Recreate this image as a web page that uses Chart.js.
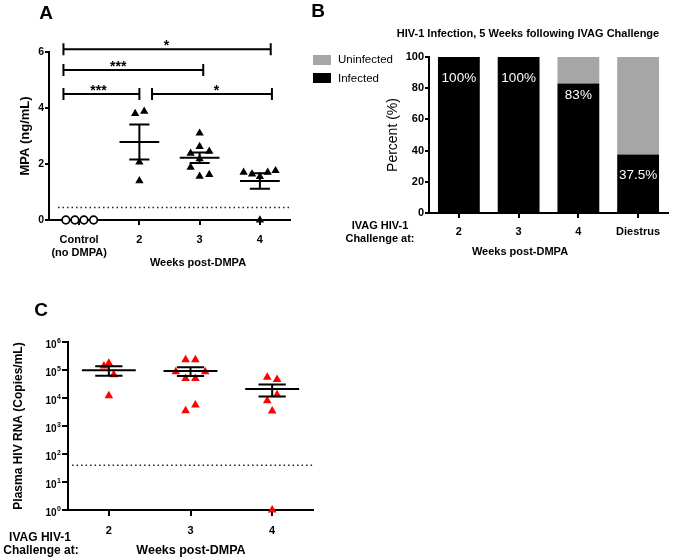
<!DOCTYPE html>
<html lang="en">
<head>
<meta charset="UTF-8" />
<title>MPA levels and HIV-1 infection after DMPA</title>
<script src="https://cdn.jsdelivr.net/npm/chart.js"></script>
<style>
  body { margin: 0; width: 685px; height: 560px; position: relative; overflow: hidden; background: #fff;
         font-family: Arial, "Liberation Sans", sans-serif; color: #000; }
  canvas { position: absolute; }
  .t { position: absolute; transform: translate(-50%, -50%); line-height: 1; font-weight: bold; white-space: nowrap; }
  .lg { position: absolute; transform: translateY(-50%); line-height: 1; font-size: 11.5px; white-space: nowrap; }
  .sw { position: absolute; width: 18px; height: 10px; }
</style>
</head>
<body>
  <canvas id="chartA" width="300" height="280" style="left:0;top:0"></canvas>
  <canvas id="chartB" width="345" height="280" style="left:340px;top:0"></canvas>
  <canvas id="chartC" width="330" height="270" style="left:0;top:290px"></canvas>

  <!-- panel letters -->
  <div class="t" style="left:46px;top:12px;font-size:19px">A</div>
  <div class="t" style="left:318px;top:10px;font-size:19px">B</div>
  <div class="t" style="left:41px;top:309px;font-size:19px">C</div>

  <!-- A -->
  <div class="t" style="left:198px;top:262px;font-size:11px">Weeks post-DMPA</div>

  <!-- B -->
  <div class="t" style="left:528px;top:33px;font-size:11px">HIV-1 Infection, 5 Weeks following IVAG Challenge</div>
  <div class="sw" style="left:313px;top:55px;background:#a6a6a6"></div>
  <div class="lg" style="left:338px;top:60px">Uninfected</div>
  <div class="sw" style="left:313px;top:73px;background:#000"></div>
  <div class="lg" style="left:338px;top:79px">Infected</div>
  <div class="t" style="left:380px;top:225px;font-size:11px">IVAG HIV-1</div>
  <div class="t" style="left:380px;top:238px;font-size:11px">Challenge at:</div>
  <div class="t" style="left:520px;top:251px;font-size:11px">Weeks post-DMPA</div>

  <!-- C -->
  <div class="t" style="left:40px;top:537px;font-size:12px">IVAG HIV-1</div>
  <div class="t" style="left:41px;top:550px;font-size:12px">Challenge at:</div>
  <div class="t" style="left:191px;top:550px;font-size:12.5px">Weeks post-DMPA</div>

<script>
  // ---- A: serum MPA (ng/mL)
  const labelsA = [["Control", "(no DMPA)"], "2", "3", "4"];
  const mpaControl = [0, 0, 0, 0];
  const mpaWk2 = [3.8, 3.88, 2.07, 1.4];
  const mpaWk3 = [3.1, 2.62, 2.38, 2.45, 2.18, 1.88, 1.56, 1.62];
  const mpaWk4 = [1.7, 1.64, 1.55, 1.7, 1.76, 0];
  const mpaLimit = 0.45;
  // horizontal scatter of the points (category units)
  const jitControl = [-0.22, -0.07, 0.08, 0.24];
  const jitWk2 = [-0.07, 0.08, 0, 0];
  const jitWk3 = [0, 0, -0.15, 0.16, 0, -0.15, 0, 0.16];
  const jitWk4 = [-0.27, -0.13, 0, 0.13, 0.26, 0];
  // significance brackets
  const bracketsA = [
    { from: -0.26, to: 3.18, y: 6.1, text: "*", at: 1.45 },
    { from: -0.26, to: 2.06, y: 5.36, text: "***", at: 0.65 },
    { from: -0.26, to: 1.0, y: 4.5, text: "***", at: 0.32 },
    { from: 1.21, to: 3.2, y: 4.5, text: "*", at: 2.28 },
  ];

  // ---- B: % infected
  const labelsB = ["2", "3", "4", "Diestrus"];
  const infected = [100, 100, 83, 37.5];
  const uninfected = [0, 0, 17, 62.5];
  const pctText = ["100%", "100%", "83%", "37.5%"];
  const pctAt = [86.5, 86.5, 75.6, 24.4];

  // ---- C: plasma viral load (copies/mL)
  const labelsC = ["2", "3", "4"];
  const rnaWk2 = [1.4e5, 1.75e5, 6.8e4, 1.2e4];
  const rnaWk3 = [2.3e5, 2.3e5, 8.7e4, 8.7e4, 5e4, 5e4, 3.5e3, 5.6e3];
  const rnaWk4 = [5.5e4, 4.6e4, 1.3e4, 8e3, 3.4e3, 1];
  const rnaLimit = 40;
  const jitC2 = [-0.06, 0, 0.06, 0];
  const jitC3 = [-0.06, 0.06, -0.18, 0.18, -0.06, 0.06, -0.06, 0.06];
  const jitC4 = [-0.06, 0.06, 0.06, -0.06, 0, 0];

  const family = 'Arial, "Liberation Sans", sans-serif';
  Chart.defaults.font.family = family;
  Chart.defaults.color = "#000";

  const pts = (vals, at, jit) => vals.map((v, i) => ({ x: at + jit[i], y: v }));

  // mean line + SEM whiskers, drawn over the points
  function meanSem(groups) {
    return {
      id: "meanSem",
      afterDatasetsDraw(chart) {
        const { ctx, scales: { x, y } } = chart;
        ctx.save();
        ctx.strokeStyle = "#000";
        ctx.lineWidth = 2;
        groups.forEach(g => {
          const n = g.vals.length;
          const m = g.vals.reduce((a, b) => a + b, 0) / n;
          const sd = Math.sqrt(g.vals.reduce((a, b) => a + (b - m) ** 2, 0) / (n - 1));
          const se = sd / Math.sqrt(n);
          const x0 = x.getPixelForValue(g.at - 0.33), x1 = x.getPixelForValue(g.at + 0.33);
          const c0 = x.getPixelForValue(g.at - 0.167), c1 = x.getPixelForValue(g.at + 0.167);
          const xc = x.getPixelForValue(g.at);
          const ym = y.getPixelForValue(m), yt = y.getPixelForValue(m + se), yb = y.getPixelForValue(m - se);
          ctx.beginPath();
          ctx.moveTo(x0, ym); ctx.lineTo(x1, ym);
          ctx.moveTo(c0, yt); ctx.lineTo(c1, yt);
          ctx.moveTo(c0, yb); ctx.lineTo(c1, yb);
          ctx.moveTo(xc, yt); ctx.lineTo(xc, yb);
          ctx.stroke();
        });
        ctx.restore();
      }
    };
  }

  const brackets = {
    id: "brackets",
    afterDraw(chart) {
      const { ctx, scales: { x, y } } = chart;
      ctx.save();
      ctx.strokeStyle = "#000";
      ctx.fillStyle = "#000";
      ctx.lineWidth = 2;
      ctx.font = "bold 14px " + family;
      ctx.textAlign = "center";
      ctx.textBaseline = "alphabetic";
      bracketsA.forEach(b => {
        const xa = x.getPixelForValue(b.from), xb = x.getPixelForValue(b.to), py = y.getPixelForValue(b.y);
        ctx.beginPath();
        ctx.moveTo(xa, py); ctx.lineTo(xb, py);
        ctx.moveTo(xa, py - 6); ctx.lineTo(xa, py + 6);
        ctx.moveTo(xb, py - 6); ctx.lineTo(xb, py + 6);
        ctx.stroke();
        ctx.fillText(b.text, x.getPixelForValue(b.at), py + 1);
      });
      ctx.restore();
    }
  };

  const axisGrid = (len) => ({ display: true, drawOnChartArea: false, drawTicks: true, tickLength: len, color: "#000", lineWidth: 2 });
  const axisBorder = { display: true, color: "#000", width: 2 };
  const noPlugins = { legend: { display: false }, tooltip: { enabled: false } };

  // ---- chart A
  new Chart(document.getElementById("chartA"), {
    type: "scatter",
    data: {
      datasets: [
        { data: pts(mpaControl, 0, jitControl), pointStyle: "circle", pointRadius: 3.8, pointBackgroundColor: "#fff", pointBorderColor: "#000", pointBorderWidth: 1.7, clip: false },
        { data: pts(mpaWk2, 1, jitWk2), pointStyle: "triangle", pointRadius: 4.8, pointBackgroundColor: "#000", pointBorderWidth: 0, clip: false },
        { data: pts(mpaWk3, 2, jitWk3), pointStyle: "triangle", pointRadius: 4.8, pointBackgroundColor: "#000", pointBorderWidth: 0, clip: false },
        { data: pts(mpaWk4, 3, jitWk4), pointStyle: "triangle", pointRadius: 4.8, pointBackgroundColor: "#000", pointBorderWidth: 0, clip: false },
        { data: [{ x: -0.35, y: mpaLimit }, { x: 3.5, y: mpaLimit }], showLine: true, pointRadius: 0, borderColor: "#222", borderWidth: 1.5, borderDash: [1.5, 3] },
      ]
    },
    options: {
      responsive: false,
      animation: false,
      events: [],
      layout: { padding: { left: 0, top: 52, right: 10, bottom: 0 } },
      plugins: noPlugins,
      scales: {
        x: {
          type: "linear", min: -0.5, max: 3.5,
          afterBuildTicks: s => { s.ticks = labelsA.map((_, i) => ({ value: i })); },
          ticks: { callback: v => labelsA[v], font: { size: 11, weight: "bold" }, padding: 8, maxRotation: 0, autoSkip: false },
          grid: axisGrid(5),
          border: axisBorder,
          afterFit: s => { s.height = 60; }
        },
        y: {
          min: 0, max: 6,
          ticks: { stepSize: 2, font: { size: 10.5, weight: "bold" }, padding: 1 },
          grid: axisGrid(4),
          border: axisBorder,
          title: { display: true, text: "MPA (ng/mL)", font: { size: 13, weight: "bold" }, padding: { top: 18, bottom: 0 } },
          afterFit: s => { s.width = 49; }
        }
      }
    },
    plugins: [meanSem([{ at: 1, vals: mpaWk2 }, { at: 2, vals: mpaWk3 }, { at: 3, vals: mpaWk4 }]), brackets]
  });

  // ---- chart B
  const barText = {
    id: "barText",
    afterDatasetsDraw(chart) {
      const { ctx, scales: { x, y } } = chart;
      ctx.save();
      ctx.fillStyle = "#fff";
      ctx.font = "13.5px " + family;
      ctx.textAlign = "center";
      ctx.textBaseline = "middle";
      pctText.forEach((t, i) => ctx.fillText(t, x.getPixelForValue(i), y.getPixelForValue(pctAt[i])));
      ctx.restore();
    }
  };

  new Chart(document.getElementById("chartB"), {
    type: "bar",
    data: {
      labels: labelsB,
      datasets: [
        { label: "Infected", data: infected, backgroundColor: "#000", barPercentage: 0.7, categoryPercentage: 1 },
        { label: "Uninfected", data: uninfected, backgroundColor: "#a6a6a6", barPercentage: 0.7, categoryPercentage: 1 },
      ]
    },
    options: {
      responsive: false,
      animation: false,
      events: [],
      layout: { padding: { left: 0, top: 57, right: 17, bottom: 0 } },
      plugins: noPlugins,
      scales: {
        x: {
          stacked: true,
          ticks: { font: { size: 11, weight: "bold" }, padding: 7, maxRotation: 0, autoSkip: false },
          grid: Object.assign(axisGrid(5), { offset: false }),
          border: axisBorder,
          afterFit: s => { s.height = 67; }
        },
        y: {
          stacked: true, min: 0, max: 100,
          ticks: { stepSize: 20, font: { size: 11, weight: "bold" }, padding: 1 },
          grid: axisGrid(4),
          border: axisBorder,
          title: { display: true, text: "Percent (%)", font: { size: 14 }, padding: { top: 45, bottom: 0 } },
          afterFit: s => { s.width = 89; }
        }
      }
    },
    plugins: [barText]
  });

  // ---- chart C
  const powerTicks = {
    id: "powerTicks",
    afterDraw(chart) {
      const { ctx, scales: { y } } = chart;
      ctx.save();
      ctx.fillStyle = "#000";
      ctx.textAlign = "right";
      ctx.textBaseline = "alphabetic";
      y.ticks.forEach(t => {
        const k = String(Math.round(Math.log10(t.value)));
        const py = y.getPixelForValue(t.value);
        const right = y.right - 7;
        ctx.font = "bold 7px " + family;
        const ew = ctx.measureText(k).width;
        ctx.fillText(k, right, py + 1);
        ctx.font = "bold 10px " + family;
        ctx.fillText("10", right - ew - 0.5, py + 5.6);
      });
      ctx.restore();
    }
  };

  new Chart(document.getElementById("chartC"), {
    type: "scatter",
    data: {
      datasets: [
        { data: pts(rnaWk2, 0, jitC2), pointStyle: "triangle", pointRadius: 5, pointBackgroundColor: "#ff0000", pointBorderWidth: 0, clip: false },
        { data: pts(rnaWk3, 1, jitC3), pointStyle: "triangle", pointRadius: 5, pointBackgroundColor: "#ff0000", pointBorderWidth: 0, clip: false },
        { data: pts(rnaWk4, 2, jitC4), pointStyle: "triangle", pointRadius: 5, pointBackgroundColor: "#ff0000", pointBorderWidth: 0, clip: false },
        { data: [{ x: -0.45, y: rnaLimit }, { x: 2.5, y: rnaLimit }], showLine: true, pointRadius: 0, borderColor: "#222", borderWidth: 1.5, borderDash: [1.5, 3] },
      ]
    },
    options: {
      responsive: false,
      animation: false,
      events: [],
      layout: { padding: { left: 0, top: 52, right: 17, bottom: 0 } },
      plugins: noPlugins,
      scales: {
        x: {
          type: "linear", min: -0.5, max: 2.5,
          afterBuildTicks: s => { s.ticks = labelsC.map((_, i) => ({ value: i })); },
          ticks: { callback: v => labelsC[v], font: { size: 11, weight: "bold" }, padding: 8, maxRotation: 0, autoSkip: false },
          grid: axisGrid(6),
          border: axisBorder,
          afterFit: s => { s.height = 50; }
        },
        y: {
          type: "logarithmic", min: 1, max: 1e6,
          afterBuildTicks: s => { s.ticks = [0, 1, 2, 3, 4, 5, 6].map(k => ({ value: 10 ** k })); },
          ticks: { callback: () => "" },
          grid: axisGrid(6),
          border: axisBorder,
          title: { display: true, text: "Plasma HIV RNA (Copies/mL)", font: { size: 12, weight: "bold" }, padding: { top: 11, bottom: 0 } },
          afterFit: s => { s.width = 68; }
        }
      }
    },
    plugins: [meanSem([{ at: 0, vals: rnaWk2 }, { at: 1, vals: rnaWk3 }, { at: 2, vals: rnaWk4 }]), powerTicks]
  });
</script>
</body>
</html>
